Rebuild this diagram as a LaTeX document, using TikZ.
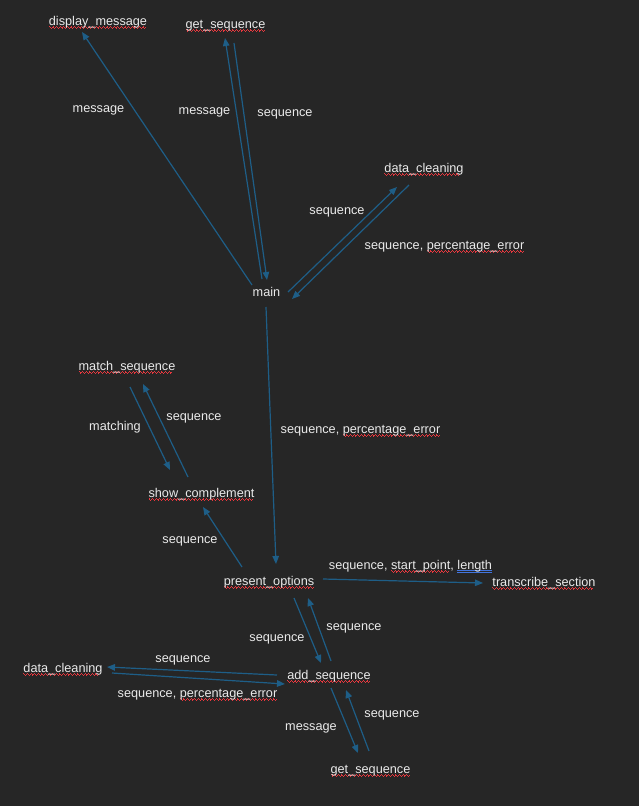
\documentclass[tikz,border=0pt]{standalone}
\usepackage{fontspec}
\setmainfont{Liberation Sans}
\usetikzlibrary{arrows.meta}

\definecolor{bg}{HTML}{262626}
\definecolor{txt}{HTML}{EAEAEA}
\definecolor{flow}{HTML}{1E5E87}
\definecolor{squig}{HTML}{E8383E}
\definecolor{gramblue}{HTML}{4275DE}

% red wavy underline (spelling): one period of a small wave, repeated with leaders
\newcommand\wavecell{\textcolor{squig}{%
  \rule[-2.4pt]{0.9pt}{1pt}\rule[-3.1pt]{0.9pt}{1pt}%
  \rule[-3.8pt]{0.9pt}{1pt}\rule[-3.1pt]{0.9pt}{1pt}}}
\newsavebox\ulinebox
\newcommand\sq[1]{\sbox\ulinebox{#1}%
  \rlap{\leaders\hbox{\wavecell}\hskip\wd\ulinebox}\usebox\ulinebox}
% blue double underline (grammar)
\newcommand\gram[1]{\sbox\ulinebox{#1}%
  \rlap{\textcolor{gramblue}{\rule[-2pt]{\wd\ulinebox}{0.8pt}}}%
  \rlap{\textcolor{gramblue}{\rule[-3.8pt]{\wd\ulinebox}{0.8pt}}}\usebox\ulinebox}

\begin{document}
\begin{tikzpicture}[x=1pt,y=-1pt,
  lbl/.style={text=txt,inner sep=0pt,anchor=base,font=\fontsize{12.7}{14}\selectfont},
  flowarrow/.style={draw=flow,line width=1.2pt,-{Triangle[length=8pt,width=6.5pt]}}]

\fill[bg] (0,0) rectangle (639,806);
\useasboundingbox (0,0) rectangle (639,806);

% functions
\node[lbl] (disp)    at (98,25)    {\sq{display\_message}};
\node[lbl] (gtop)    at (225.5,28) {\sq{get\_sequence}};
\node[lbl] (dctop)   at (424,172)  {\sq{data\_cleaning}};
\node[lbl] (main)    at (266.5,296){main};
\node[lbl] (match)   at (127,370)  {\sq{match\_sequence}};
\node[lbl] (showc)   at (201.5,497){\sq{show\_complement}};
\node[lbl] (present) at (269,585)  {\sq{present\_options}};
\node[lbl] (trans)   at (544,586)  {\sq{transcribe\_section}};
\node[lbl] (dcl)     at (63,672)   {\sq{data\_cleaning}};
\node[lbl] (adds)    at (329,679)  {\sq{add\_sequence}};
\node[lbl] (gbot)    at (370.5,773){\sq{get\_sequence}};

% data passed along the calls
\node[lbl] (l1)  at (98.5,112) {message};
\node[lbl] (l2)  at (204.5,114){message};
\node[lbl] (l3)  at (285,116)  {sequence};
\node[lbl] (l4)  at (337,214)  {sequence};
\node[lbl] (l5)  at (444.5,249){sequence, \sq{percentage\_error}};
\node[lbl] (l6)  at (360.5,433){sequence, \sq{percentage\_error}};
\node[lbl] (l7)  at (115,430)  {matching};
\node[lbl] (l8)  at (194,420)  {sequence};
\node[lbl] (l9)  at (190,543)  {sequence};
\node[lbl] (l10) at (410.5,569){sequence, \sq{start\_point}, \gram{length}};
\node[lbl] (l11) at (277,641)  {sequence};
\node[lbl] (l12) at (354,630)  {sequence};
\node[lbl] (l13) at (183,662)  {sequence};
\node[lbl] (l14) at (197.5,697){sequence, \sq{percentage\_error}};
\node[lbl] (l15) at (311,730)  {message};
\node[lbl] (l16) at (392,717)  {sequence};

% calls
\draw[flowarrow] ([shift={(-14.5,-11)}]main.base) -- ([shift={(-16,7)}]disp.base);
\draw[flowarrow] ([shift={(-4.5,-17)}]main.base) -- ([shift={(-0.5,10)}]gtop.base);
\draw[flowarrow] ([shift={(8.5,15)}]gtop.base) -- ([shift={(0.5,-16)}]main.base);
\draw[flowarrow] ([shift={(21.5,-4)}]main.base) -- ([shift={(-27,15)}]dctop.base);
\draw[flowarrow] ([shift={(-15,13)}]dctop.base) -- ([shift={(25.5,3)}]main.base);
\draw[flowarrow] ([shift={(-0.5,11)}]main.base) -- ([shift={(7,-21)}]present.base);
\draw[flowarrow] ([shift={(-27,-18)}]present.base) -- ([shift={(1.5,10)}]showc.base);
\draw[flowarrow] ([shift={(-13.5,-20)}]showc.base) -- ([shift={(16,14)}]match.base);
\draw[flowarrow] ([shift={(3,17)}]match.base) -- ([shift={(-31.5,-27)}]showc.base);
\draw[flowarrow] ([shift={(54,-6)}]present.base) -- ([shift={(-61,-3)}]trans.base);
\draw[flowarrow] ([shift={(25,13)}]present.base) -- ([shift={(-8,-16)}]adds.base);
\draw[flowarrow] ([shift={(2,-18)}]adds.base) -- ([shift={(39,13)}]present.base);
\draw[flowarrow] ([shift={(-52,-4)}]adds.base) -- ([shift={(44,-5)}]dcl.base);
\draw[flowarrow] ([shift={(49,1)}]dcl.base) -- ([shift={(-44,5)}]adds.base);
\draw[flowarrow] ([shift={(2,9)}]adds.base) -- ([shift={(-12.5,-20)}]gbot.base);
\draw[flowarrow] ([shift={(-1.5,-22)}]gbot.base) -- ([shift={(17,11)}]adds.base);

\end{tikzpicture}
\end{document}
